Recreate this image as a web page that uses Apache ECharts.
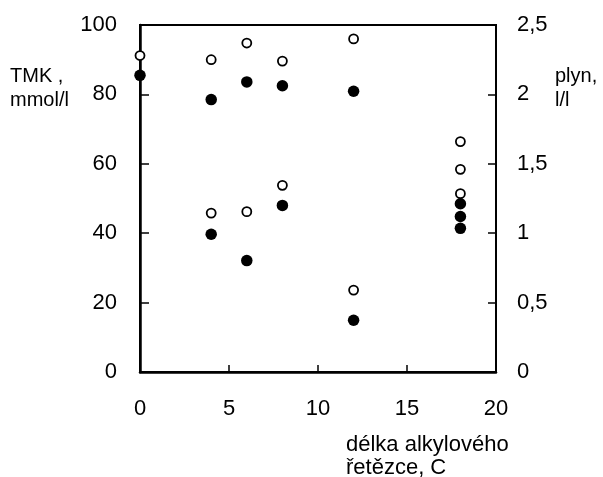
<!DOCTYPE html>
<html>
<head>
<meta charset="utf-8">
<script src="https://cdn.jsdelivr.net/npm/echarts@6/dist/echarts.min.js"></script>
<style>
html,body{margin:0;padding:0;background:#fff;}
#chart{width:603px;height:477px;}
</style>
</head>
<body>
<div id="chart"></div>
<script>
// Chain length (C)
const xTMK = [0, 4, 6, 8, 12, 4, 6, 8, 12, 18, 18, 18];
// TMK, mmol/l (filled circles, left axis)
const tmk = [85.5, 78.5, 83.6, 82.5, 80.9, 39.7, 32.1, 48.0, 14.9, 48.5, 44.8, 41.4];
// Gas, l/l (open circles, right axis)
const xGas = [0, 4, 6, 8, 12, 4, 6, 8, 12, 18, 18, 18];
const gas = [2.28, 2.25, 2.37, 2.24, 2.40, 1.145, 1.155, 1.345, 0.59, 1.66, 1.46, 1.285];

const xTicks = {min: 0, max: 20, interval: 5};
const leftTicks = {min: 0, max: 100, interval: 20};
const rightTicks = {min: 0, max: 2.5, interval: 0.5};

const FONT = 'Liberation Sans, Arial, sans-serif';
const chart = echarts.init(document.getElementById('chart'), null, {renderer: 'canvas'});

chart.setOption({
  animation: false,
  backgroundColor: '#fff',
  grid: {left: 140, right: 107, top: 25, bottom: 105, show: true, borderColor: '#000', borderWidth: 2, backgroundColor: 'transparent'},
  xAxis: {
    type: 'value', min: xTicks.min, max: xTicks.max, interval: xTicks.interval,
    axisLine: {show: true, lineStyle: {color: '#000', width: 2.5}},
    axisTick: {show: true, inside: true, length: 7, lineStyle: {color: '#000', width: 1.5}},
    axisLabel: {color: '#000', fontFamily: FONT, fontSize: 22, margin: 26},
    splitLine: {show: false}
  },
  yAxis: [{
    type: 'value', min: leftTicks.min, max: leftTicks.max, interval: leftTicks.interval,
    axisLine: {show: true, lineStyle: {color: '#000', width: 2.5}},
    axisTick: {show: true, inside: true, length: 9, lineStyle: {color: '#000', width: 1.5}},
    axisLabel: {color: '#000', fontFamily: FONT, fontSize: 22, margin: 23},
    splitLine: {show: false}
  }, {
    type: 'value', position: 'right', min: rightTicks.min, max: rightTicks.max, interval: rightTicks.interval,
    axisLine: {show: true, lineStyle: {color: '#000', width: 2}},
    axisTick: {show: true, inside: true, length: 8, lineStyle: {color: '#000', width: 1.5}},
    axisLabel: {color: '#000', fontFamily: FONT, fontSize: 22, margin: 21,
      formatter: v => String(v).replace('.', ',')},
    splitLine: {show: false}
  }],
  graphic: [
    {type: 'text', left: 10, top: 64, style: {text: 'TMK ,\nmmol/l', font: '20px ' + FONT, fill: '#000', lineHeight: 24}},
    {type: 'text', left: 555, top: 64, style: {text: 'plyn,\nl/l', font: '20px ' + FONT, fill: '#000', lineHeight: 24}},
    {type: 'text', left: 346, top: 433, style: {text: 'délka alkylového\nřetězce, C', font: '22px ' + FONT, fill: '#000', lineHeight: 23}}
  ],
  series: [{
    type: 'scatter', yAxisIndex: 1,
    data: xGas.map((x, i) => [x, gas[i]]),
    symbol: 'circle', symbolSize: 9,
    itemStyle: {color: '#fff', borderColor: '#000', borderWidth: 1.8, opacity: 1},
    z: 3
  }, {
    type: 'scatter', yAxisIndex: 0,
    data: xTMK.map((x, i) => [x, tmk[i]]),
    symbol: 'circle', symbolSize: 11.5,
    itemStyle: {color: '#000', opacity: 1},
    z: 4
  }]
});
</script>
</body>
</html>
